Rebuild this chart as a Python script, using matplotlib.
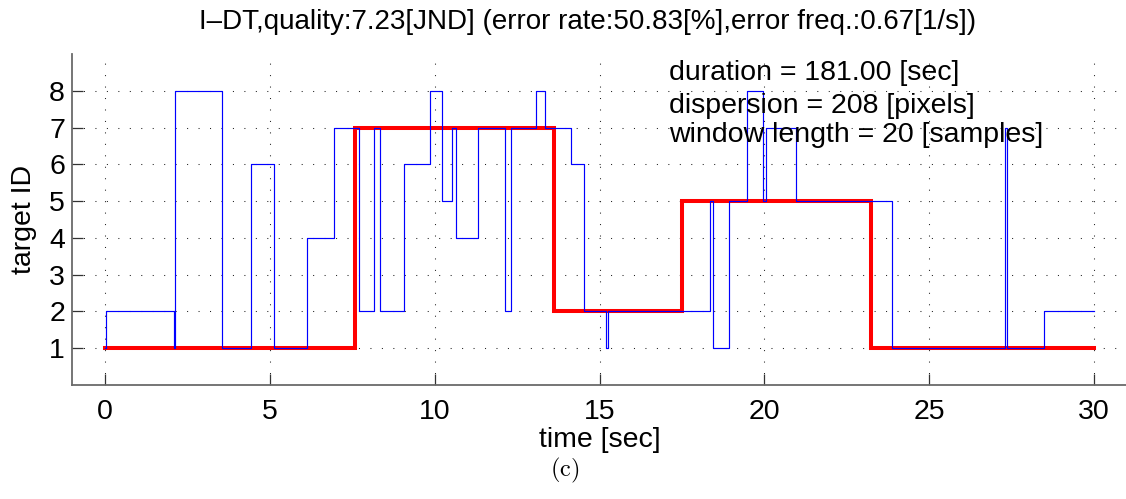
import matplotlib
matplotlib.use("Agg")
import matplotlib.pyplot as plt

plt.rcParams["font.family"] = ["Liberation Sans", "DejaVu Sans"]
plt.rcParams["mathtext.fontset"] = "cm"

# Raw gaze target IDs (step changes: start time [sec], target ID)
raw_times = [0.00, 0.02, 2.09, 2.12, 3.54, 4.44, 5.14, 6.12, 6.94, 7.70,
             8.16, 8.33, 9.06, 9.86, 10.22, 10.52, 10.66, 11.30, 12.12, 12.32,
             13.07, 13.36, 14.14, 14.54, 15.21, 15.25, 18.35, 18.43, 18.93, 19.48,
             19.96, 20.04, 20.96, 23.86, 27.30, 27.37, 28.47, 30.00]
raw_ids = [1, 2, 1, 8, 1, 6, 1, 4, 7, 2,
           7, 2, 6, 8, 5, 7, 4, 7, 2, 7,
           8, 7, 6, 2, 1, 2, 5, 1, 5, 8,
           5, 7, 5, 1, 7, 1, 2, 2]

# Fixations detected by I-DT (step changes: start time [sec], target ID)
fix_times = [0.00, 7.59, 13.62, 17.50, 23.22, 30.00]
fix_ids = [1, 7, 2, 5, 1, 1]

x_ticks = [0, 5, 10, 15, 20, 25, 30]
y_ticks = [1, 2, 3, 4, 5, 6, 7, 8]

title = "I\u2013DT,quality:7.23[JND] (error rate:50.83[%],error freq.:0.67[1/s])"
info_lines = ["duration = 181.00 [sec]",
              "dispersion = 208 [pixels]",
              "window length = 20 [samples]"]

W, H = 1126, 499
fig = plt.figure(figsize=(W / 100, H / 100), dpi=100)
ax = fig.add_axes([72 / W, (H - 385) / H, (W - 72) / W + 0.001, (385 - 54) / H])

ax.step(fix_times, fix_ids, where="post", color="#ff0000", lw=2.9, zorder=3,
        solid_joinstyle="miter")
ax.step(raw_times, raw_ids, where="post", color="#0000ff", lw=0.85, zorder=4)

ax.set_xlim(-1, 31)
ax.set_ylim(0, 9)
ax.set_xticks(x_ticks)
ax.set_yticks(y_ticks)

spine_col = "#6a6a6a"
for side in ("top", "right"):
    ax.spines[side].set_visible(False)
for side in ("left", "bottom"):
    ax.spines[side].set_color(spine_col)
    ax.spines[side].set_linewidth(1.3)

fs = 20.5
ax.tick_params(direction="in", length=8, width=0.9, color="#333333",
               labelsize=fs, labelcolor="black")
ax.tick_params(axis="x", pad=10)
ax.tick_params(axis="y", pad=5)

ax.grid(True, color="#222222", lw=0.75, linestyle=(0, (1, 10)))
ax.set_axisbelow(True)

ax.set_xlabel("time [sec]", fontsize=fs)
ax.xaxis.set_label_coords(0.5, -0.126)
ax.set_ylabel("target ID", fontsize=fs, va="center")
ax.yaxis.set_label_coords(-0.0455, 0.5)

for y, line in zip([8.29, 7.40, 6.62], info_lines):
    ax.text(17.10, y, line, fontsize=fs, va="baseline", ha="left", zorder=5)

fig.text(588 / W, (H - 29) / H, title, fontsize=20, ha="center", va="baseline")
fig.text(565 / W, (H - 470) / H, r"$\mathrm{(c)}$", fontsize=17.5,
         ha="center", va="center")

fig.savefig("out.png", dpi=100)
